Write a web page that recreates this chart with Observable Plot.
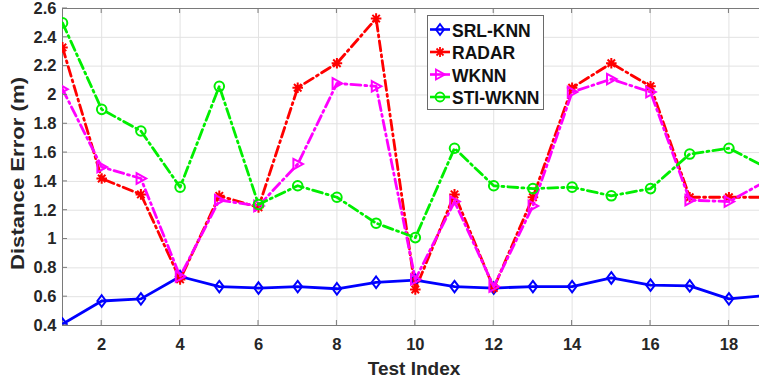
<!DOCTYPE html>
<html>
<head>
<meta charset="utf-8">
<script src="https://cdn.jsdelivr.net/npm/d3@7"></script>
<script src="https://cdn.jsdelivr.net/npm/@observablehq/plot@0.6"></script>
<style>
  html, body { margin: 0; padding: 0; background: #fff; }
  #chart { width: 759px; height: 383px; overflow: hidden; }
</style>
</head>
<body>
<div id="chart"></div>
<script>
// ---- data ----
const testIndex = [1, 2, 3, 4, 5, 6, 7, 8, 9, 10, 11, 12, 13, 14, 15, 16, 17, 18, 19];
const srlKnn  = [0.41, 0.57, 0.585, 0.74, 0.67, 0.66, 0.67, 0.655, 0.70, 0.715, 0.67, 0.66, 0.67, 0.67, 0.73, 0.68, 0.675, 0.585, 0.61];
const radar   = [2.33, 1.42, 1.31, 0.72, 1.30, 1.22, 2.05, 2.22, 2.53, 0.65, 1.31, 0.66, 1.29, 2.05, 2.22, 2.06, 1.29, 1.29, 1.29];
const wknn    = [2.04, 1.50, 1.42, 0.74, 1.27, 1.23, 1.52, 2.08, 2.06, 0.72, 1.26, 0.67, 1.23, 2.02, 2.11, 2.02, 1.27, 1.26, 1.41];
const stiWknn = [2.50, 1.90, 1.75, 1.36, 2.06, 1.24, 1.37, 1.29, 1.11, 1.01, 1.63, 1.37, 1.35, 1.36, 1.30, 1.35, 1.59, 1.63, 1.49];
const seriesNames = ["SRL-KNN", "RADAR", "WKNN", "STI-WKNN"];
const xTicks = [2, 4, 6, 8, 10, 12, 14, 16, 18];
const yTicks = [0.4, 0.6, 0.8, 1, 1.2, 1.4, 1.6, 1.8, 2, 2.2, 2.4, 2.6];
const xDomain = [1, 18.78];
const yDomain = [0.4, 2.6];
const xLabel = "Test Index";
const yLabel = "Distance Error (m)";

// ---- styles ----
const colors = ["#0000ff", "#ff0000", "#ff00ff", "#00ee00"];
const dashes = [null, "10,4,2,4", "10,4,2,4", "10,4,2,4"];
const rOf = size => Math.sqrt(size / Math.PI);
const symDiamond = {draw(c, s) { const r = rOf(s); c.moveTo(0, -r * 1.2); c.lineTo(r * 0.9, 0); c.lineTo(0, r * 1.2); c.lineTo(-r * 0.9, 0); c.closePath(); }};
const symAsterisk = {draw(c, s) { const r = rOf(s) * 1.1; for (const a of [0, 45, 90, 135]) { const t = a * Math.PI / 180; c.moveTo(Math.cos(t) * r, Math.sin(t) * r); c.lineTo(-Math.cos(t) * r, -Math.sin(t) * r); } }};
const symTriRight = {draw(c, s) { const r = rOf(s); c.moveTo(-r * 0.9, -r * 1.1); c.lineTo(r * 1.1, 0); c.lineTo(-r * 0.9, r * 1.1); c.closePath(); }};
const symCircle = {draw(c, s) { const r = rOf(s); c.moveTo(r, 0); c.arc(0, 0, r, 0, 2 * Math.PI); }};
const symbols = [symDiamond, symAsterisk, symTriRight, symCircle];
const valuesBySeries = [srlKnn, radar, wknn, stiWknn];

const rows = [];
seriesNames.forEach((name, k) => testIndex.forEach((x, i) => rows.push({series: name, x, y: valuesBySeries[k][i]})));

const font = "'Liberation Sans', Arial, sans-serif";
const lineMarks = [];
seriesNames.forEach((name, k) => {
  const d = rows.filter(r => r.series === name);
  lineMarks.push(Plot.line(d, {x: "x", y: "y", stroke: colors[k], strokeWidth: 2.8, strokeDasharray: dashes[k], strokeLinejoin: "round", clip: true}));
  lineMarks.push(Plot.dot(d, {x: "x", y: "y", symbol: symbols[k], r: 4.8, stroke: colors[k], fill: "none", strokeWidth: 2, clip: true}));
});

const plot = Plot.plot({
  width: 759, height: 383,
  marginLeft: 62, marginRight: 0, marginTop: 8, marginBottom: 58,
  x: {domain: xDomain, label: null},
  y: {domain: yDomain, label: null},
  style: {fontFamily: font, fontSize: "16.5px", fontWeight: "bold", color: "#262626", background: "#fff"},
  marks: [
    Plot.gridX(xTicks, {stroke: "#e2e2e2", strokeOpacity: 1}),
    Plot.gridY(yTicks, {stroke: "#e2e2e2", strokeOpacity: 1}),
    Plot.ruleY([yDomain[0], yDomain[1]], {stroke: "#7a7a7a", strokeWidth: 1}),
    Plot.ruleX([xDomain[0]], {stroke: "#7a7a7a", strokeWidth: 1}),
    Plot.axisX(xTicks, {tickSize: 0, tickPadding: 13, label: null, tickFormat: d => String(d), fill: "#262626"}),
    Plot.axisY(yTicks, {tickSize: 0, tickPadding: 6, label: null, tickFormat: d => String(d), fill: "#262626"}),
    ...lineMarks
  ]
});

document.getElementById("chart").appendChild(plot);

// ---- inward ticks, axis labels, legend ----
const svg = d3.select(plot);
const xs = plot.scale("x"), ys = plot.scale("y");
const x0 = xs.apply(xDomain[0]);
const yb = ys.apply(yDomain[0]), yt = ys.apply(yDomain[1]);
const tg = svg.append("g").attr("stroke", "#7a7a7a").attr("stroke-width", 1);
xTicks.forEach(t => {
  const px = xs.apply(t);
  tg.append("line").attr("x1", px).attr("x2", px).attr("y1", yb).attr("y2", yb - 5);
  tg.append("line").attr("x1", px).attr("x2", px).attr("y1", yt).attr("y2", yt + 5);
});
yTicks.forEach(t => {
  const py = ys.apply(t);
  tg.append("line").attr("x1", x0).attr("x2", x0 + 5).attr("y1", py).attr("y2", py);
});

svg.append("text")
  .attr("x", 414).attr("y", 375)
  .attr("text-anchor", "middle")
  .attr("font-family", font).attr("font-size", 19).attr("font-weight", "bold")
  .attr("fill", "#262626")
  .text(xLabel);

svg.append("text")
  .attr("transform", "translate(24,173.5) rotate(-90)")
  .attr("text-anchor", "middle")
  .attr("font-family", font).attr("font-size", 18.5).attr("font-weight", "bold")
  .attr("fill", "#262626")
  .attr("textLength", 193).attr("lengthAdjust", "spacingAndGlyphs")
  .text(yLabel);

const lg = svg.append("g").attr("text-anchor", "start");
lg.append("rect").attr("x", 427.5).attr("y", 15.5).attr("width", 116).attr("height", 94)
  .attr("fill", "#fff").attr("stroke", "#6a6a6a").attr("stroke-width", 1);
seriesNames.forEach((name, k) => {
  const cy = 29.5 + k * 22.5;
  lg.append("line").attr("x1", 430).attr("x2", 450).attr("y1", cy).attr("y2", cy)
    .attr("stroke", colors[k]).attr("stroke-width", 2.6);
  lg.append("path").attr("transform", `translate(440,${cy})`)
    .attr("d", d3.symbol(symbols[k], Math.PI * 4.5 * 4.5)())
    .attr("fill", "none").attr("stroke", colors[k]).attr("stroke-width", 1.8);
  lg.append("text").attr("x", 452).attr("y", cy + 7)
    .attr("text-anchor", "start")
    .attr("font-family", font).attr("font-size", 17.5).attr("font-weight", "bold")
    .attr("fill", "#111")
    .text(name);
});
</script>
</body>
</html>
